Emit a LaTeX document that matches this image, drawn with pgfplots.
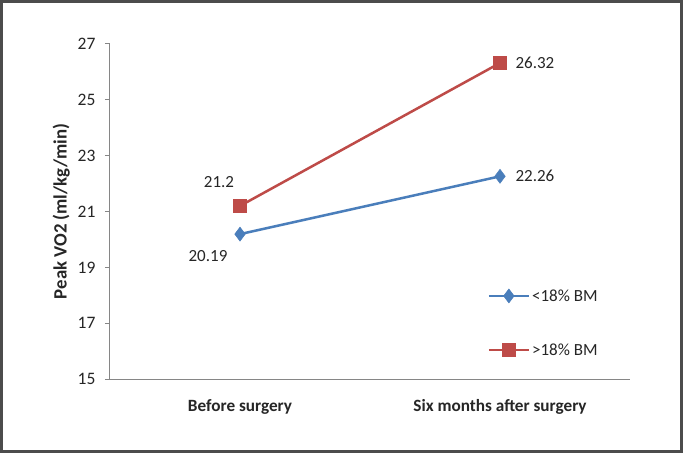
\documentclass[border=0pt]{standalone}
\usepackage{fontspec}
\setmainfont{Carlito}
\usepackage{pgfplots}
\pgfplotsset{compat=1.18}
\definecolor{xblue}{HTML}{4A7EBB}
\definecolor{xred}{HTML}{BE4B48}
\definecolor{axgray}{HTML}{868686}
\definecolor{txt}{HTML}{262626}
\begin{document}
\begin{tikzpicture}
\fill[white] (0pt,0pt) rectangle (683pt,453pt);
\begin{axis}[
  at={(110pt,74pt)}, anchor=south west,
  scale only axis, width=520pt, height=335pt,
  xmin=-0.5, xmax=1.5, ymin=15, ymax=27,
  ytick={15,17,...,27},
  xtick={0,1}, xticklabels={Before surgery, Six months after surgery},
  axis x line*=bottom, axis y line*=left,
  axis line style={axgray, line width=1pt},
  x axis line style={-}, y axis line style={-},
  major tick length=5pt,
  ytick style={axgray, line width=1pt},
  xtick style={draw=none},
  tick align=outside,
  /pgf/number format/assume math mode=true,
  yticklabel style={font=\fontsize{17.5}{19}\selectfont, text=txt, xshift=-6pt},
  xticklabel style={font=\bfseries\fontsize{17.2}{19}\selectfont, text=txt, yshift=-12pt},
  ylabel={Peak VO2 (ml/kg/min)},
  every axis y label/.style={at={(ticklabel cs:0.5)}, rotate=90, anchor=south, yshift=1pt,
    font=\bfseries\fontsize{18.8}{20}\selectfont, text=txt},
  legend style={at={(0.72,0.28)}, anchor=north west, draw=none, fill=none,
    font=\fontsize{17}{19}\selectfont, text=txt, row sep=37pt,
    legend cell align=left},
  legend image code/.code={\draw[mark repeat=2,mark phase=2] plot coordinates {(0pt,0pt) (20pt,0pt) (40pt,0pt)};},
  clip=false,
]
\addplot[xblue, line width=2.5pt, mark=diamond*, mark size=7pt, mark options={fill=xblue, draw=xblue, line width=0.5pt}]
  coordinates {(0,20.19) (1,22.26)};
\addlegendentry{<18\% BM}
\addplot[xred, line width=2.5pt, mark=square*, mark size=6.5pt, mark options={fill=xred, draw=xred, line width=0.5pt}]
  coordinates {(0,21.2) (1,26.32)};
\addlegendentry{>18\% BM}
\node[font=\fontsize{17}{19}\selectfont, text=txt] at (axis cs:0,21.2) [xshift=-21pt, yshift=24pt] {21.2};
\node[font=\fontsize{17}{19}\selectfont, text=txt] at (axis cs:0,20.19) [xshift=-32pt, yshift=-22pt] {20.19};
\node[font=\fontsize{17}{19}\selectfont, text=txt, anchor=west] at (axis cs:1,26.32) [xshift=12pt] {26.32};
\node[font=\fontsize{17}{19}\selectfont, text=txt, anchor=west] at (axis cs:1,22.26) [xshift=12pt] {22.26};
\end{axis}
\draw[line width=3pt, black!70] (1.5pt,1.5pt) rectangle (681.5pt,451.5pt);
\useasboundingbox (0pt,0pt) rectangle (683pt,453pt);
\end{tikzpicture}
\end{document}
